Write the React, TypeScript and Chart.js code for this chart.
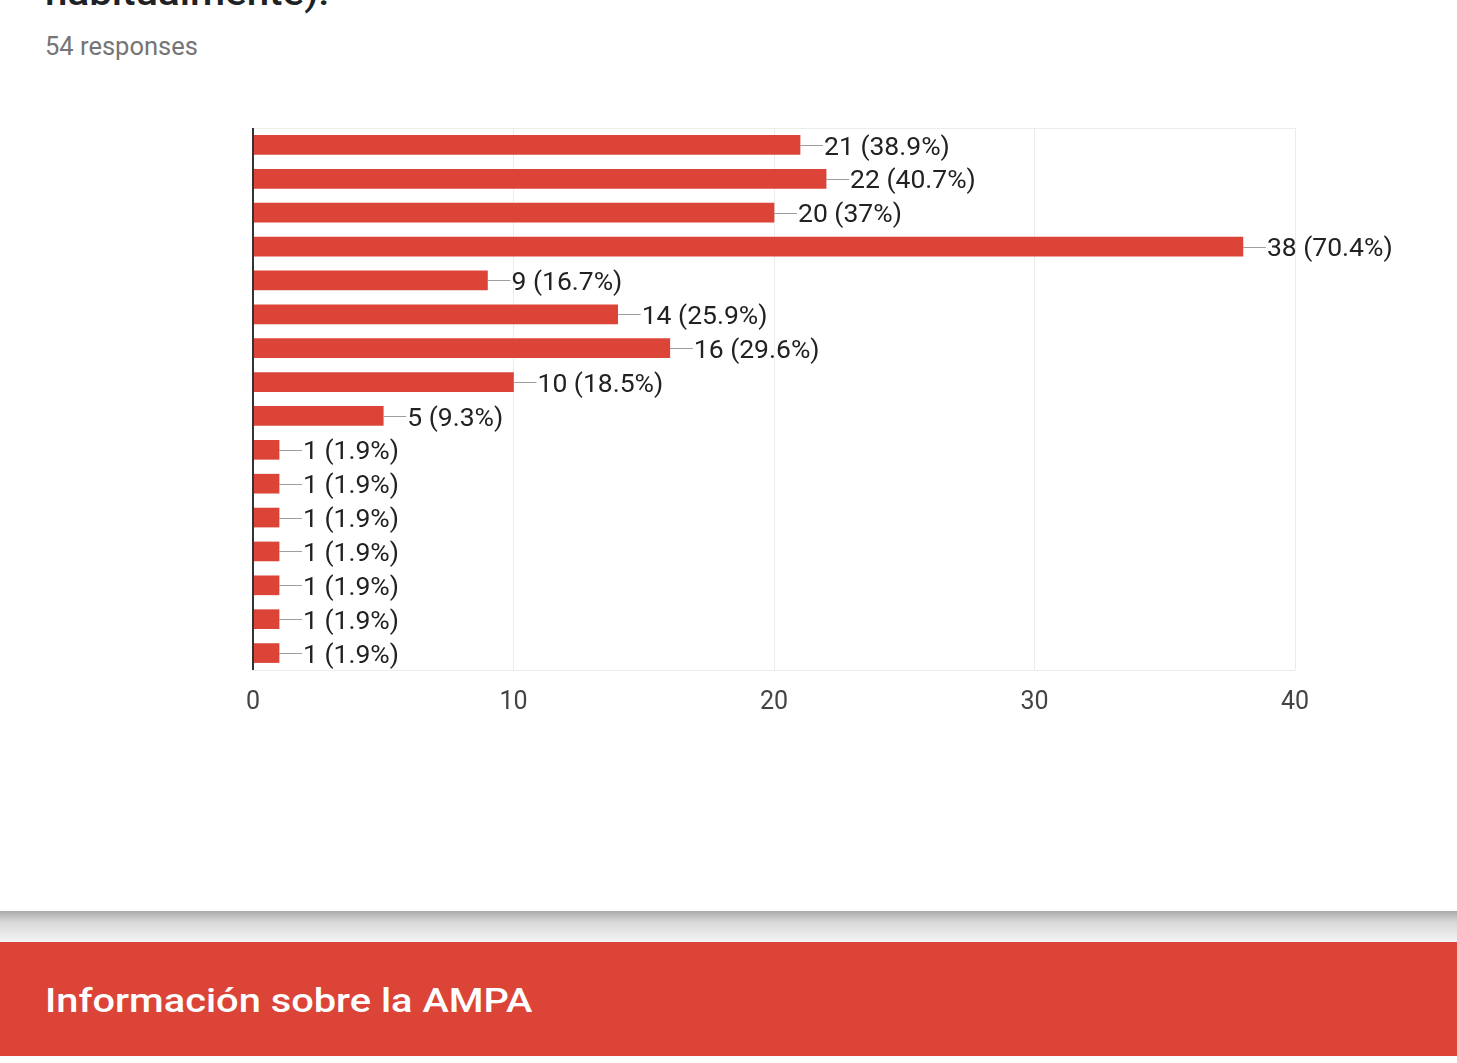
import React, { useEffect, useRef } from "react";
import { Chart, registerables } from "chart.js";

Chart.register(...registerables);

const categories = [
  "Opción 1", "Opción 2", "Opción 3", "Opción 4", "Opción 5", "Opción 6", "Opción 7", "Opción 8",
  "Opción 9", "Opción 10", "Opción 11", "Opción 12", "Opción 13", "Opción 14", "Opción 15", "Opción 16",
];
const counts = [21, 22, 20, 38, 9, 14, 16, 10, 5, 1, 1, 1, 1, 1, 1, 1];
const percents = [
  "38.9%", "40.7%", "37%", "70.4%", "16.7%", "25.9%", "29.6%", "18.5%",
  "9.3%", "1.9%", "1.9%", "1.9%", "1.9%", "1.9%", "1.9%", "1.9%",
];
const xTicks = [0, 10, 20, 30, 40];

const RED = "#db4437";
const FONT = "Roboto, 'Liberation Sans', Arial, sans-serif";

const decorPlugin = {
  id: "decor",
  beforeDatasetsDraw(chart: any) {
    const { ctx, chartArea } = chart;
    ctx.save();
    ctx.strokeStyle = "#ececec";
    ctx.lineWidth = 1;
    ctx.beginPath();
    ctx.moveTo(chartArea.left, chartArea.top + 0.5);
    ctx.lineTo(chartArea.right, chartArea.top + 0.5);
    ctx.moveTo(chartArea.left, chartArea.bottom + 0.5);
    ctx.lineTo(chartArea.right, chartArea.bottom + 0.5);
    ctx.stroke();
    ctx.restore();
  },
  afterDatasetsDraw(chart: any) {
    const { ctx, chartArea } = chart;
    const meta = chart.getDatasetMeta(0);
    ctx.save();
    ctx.font = `26.5px ${FONT}`;
    ctx.textBaseline = "middle";
    ctx.textAlign = "left";
    meta.data.forEach((el: any, i: number) => {
      const x = el.x;
      const y = Math.round(el.y) + 0.5;
      ctx.strokeStyle = "#9e9e9e";
      ctx.lineWidth = 1;
      ctx.beginPath();
      ctx.moveTo(x, y);
      ctx.lineTo(x + 23, y);
      ctx.stroke();
      ctx.fillStyle = "#222222";
      ctx.fillText(`${counts[i]} (${percents[i]})`, x + 24, el.y + 3);
    });
    ctx.strokeStyle = "#333333";
    ctx.lineWidth = 2;
    ctx.beginPath();
    ctx.moveTo(chartArea.left, chartArea.top);
    ctx.lineTo(chartArea.left, chartArea.bottom);
    ctx.stroke();
    ctx.restore();
  },
};

function BarChart() {
  const ref = useRef<HTMLCanvasElement>(null);
  useEffect(() => {
    if (!ref.current) return;
    const chart = new Chart(ref.current, {
      type: "bar",
      data: {
        labels: categories,
        datasets: [
          {
            data: counts,
            backgroundColor: RED,
            borderWidth: 0,
            barThickness: 19,
          },
        ],
      },
      options: {
        indexAxis: "y",
        animation: false,
        responsive: false,
        maintainAspectRatio: false,
        layout: { padding: { left: 253, right: 162, top: 128, bottom: 30 } },
        plugins: { legend: { display: false }, tooltip: { enabled: false } },
        scales: {
          y: {
            type: "category",
            display: false,
            offset: true,
          },
          x: {
            type: "linear",
            min: 0,
            max: 40,
            afterBuildTicks: (scale: any) => {
              scale.ticks = xTicks.map((v) => ({ value: v }));
            },
            afterFit: (scale: any) => {
              scale.height = 60;
            },
            grid: { color: "#ebebeb", drawTicks: false, lineWidth: 1 },
            border: { display: false },
            ticks: {
              padding: 18,
              color: "#444444",
              font: { family: FONT, size: 25 },
              maxRotation: 0,
            },
          },
        },
      },
      plugins: [decorPlugin],
    });
    return () => chart.destroy();
  }, []);
  return (
    <canvas
      ref={ref}
      width={1457}
      height={760}
      style={{ position: "absolute", left: 0, top: 0, width: 1457, height: 760 }}
    />
  );
}

export default function App() {
  return (
    <div
      style={{
        position: "fixed",
        left: 0,
        top: 0,
        width: 1457,
        height: 1063,
        background: "#ffffff",
        overflow: "hidden",
        fontFamily: FONT,
      }}
    >
      <div
        style={{
          position: "absolute",
          left: 45,
          top: -27,
          fontSize: 36,
          fontWeight: 500,
          color: "#202124",
          lineHeight: "40px",
          whiteSpace: "nowrap",
          transform: "scaleX(1.12)",
          transformOrigin: "left top",
        }}
      >
        habitualmente).
      </div>
      <div
        style={{
          position: "absolute",
          left: 45,
          top: 30,
          fontSize: 25.5,
          color: "#757575",
          lineHeight: "32px",
          whiteSpace: "nowrap",
        }}
      >
        54 responses
      </div>
      <BarChart />
      <div
        style={{
          position: "absolute",
          left: 0,
          top: 911,
          width: 1457,
          height: 31,
          background: "linear-gradient(#a9a9a9, #d8d8d8 35%, #f4f4f4)",
        }}
      />
      <div
        style={{
          position: "absolute",
          left: 0,
          top: 942,
          width: 1457,
          height: 114,
          background: RED,
        }}
      />
      <div
        style={{
          position: "absolute",
          left: 45,
          top: 978,
          fontSize: 34,
          fontWeight: 500,
          color: "#ffffff",
          lineHeight: "44px",
          whiteSpace: "nowrap",
          transform: "scaleX(1.17)",
          transformOrigin: "left top",
        }}
      >
        Información sobre la AMPA
      </div>
    </div>
  );
}
